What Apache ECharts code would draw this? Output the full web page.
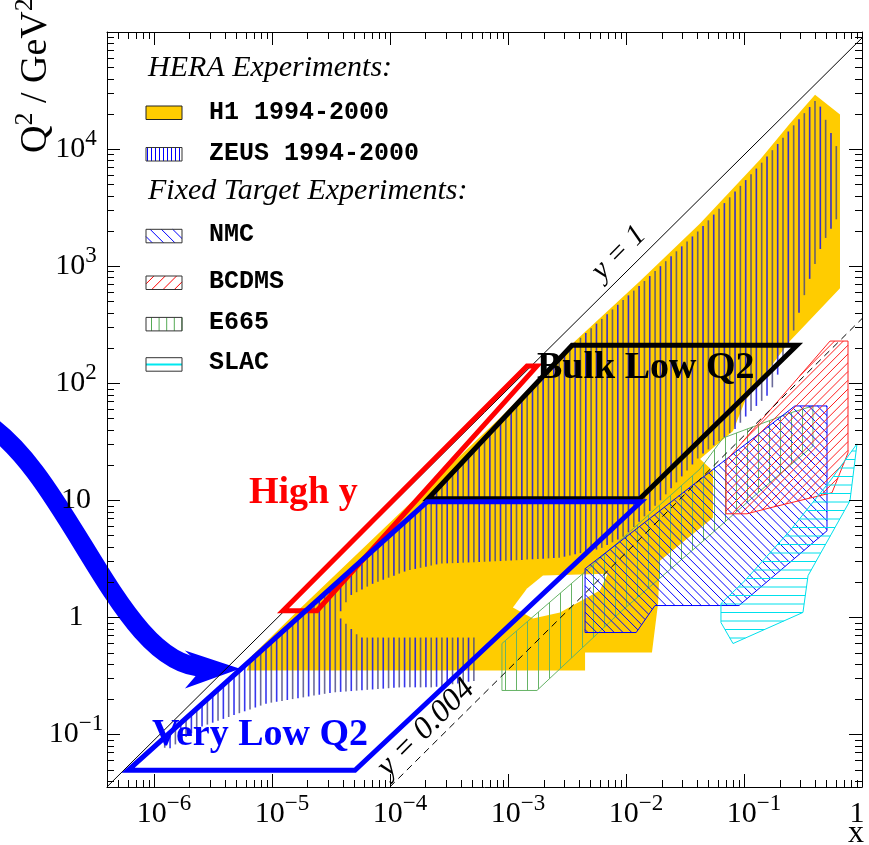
<!DOCTYPE html>
<html><head><meta charset="utf-8">
<script src="https://cdn.jsdelivr.net/npm/echarts@6/dist/echarts.min.js"></script>
<style>html,body{margin:0;padding:0;background:#fff}#c{width:869px;height:845px}</style>
</head><body><div id="c"></div><script>
// ---------------- data ----------------
const xRange = [4e-7, 1];
const q2Range = [0.0355, 1e5];
const minorMultipliers = [2, 3, 4, 5, 6, 7, 8, 9];
const sEP = 8.9e4;                 // GeV^2
const yLineValues = [1, 0.004];

const h1Region = [
  [6.1e-6, 0.351], [6.8e-6, 0.472], [1.73e-5, 1.19], [1.22e-4, 7.81], [8.55e-4, 50.4],
  [3.56e-3, 220], [1.31e-2, 742], [4.24e-2, 2317], [0.137, 8140], [0.245, 16500],
  [0.40, 29150], [0.651, 19700], [0.651, 647], [0.245, 229], [0.102, 70.4],
  [0.0807, 39.1], [0.0424, 22.5], [0.0546, 17.8], [0.0546, 7.08], [0.0194, 3.04],
  [0.0187, 1.31], [0.0166, 0.50], [4.5e-3, 0.50], [4.5e-3, 0.351]
];
const h1Gap = [[1.10e-3, 1.21], [1.45e-3, 1.76], [1.98e-3, 2.27], [7.0e-3, 2.36], [6.0e-3, 1.69], [2.76e-3, 1.10], [1.63e-3, 0.975]];
const zeusRegion = [
  [1.12e-6, 0.0855], [6.51e-6, 0.427], [3.10e-5, 1.76], [2.06e-4, 9.89], [3.49e-3, 211],
  [1.31e-2, 686], [4.24e-2, 2060], [0.137, 7380], [0.245, 14650], [0.416, 27000],
  [0.626, 9770], [0.626, 2660], [0.458, 1534], [0.342, 673], [0.255, 252],
  [0.210, 145], [0.166, 82.4], [0.108, 54.6], [0.0839, 40.6], [0.0424, 23.9],
  [0.0194, 9.89], [9.81e-3, 4.97], [6.03e-3, 3.85], [2.76e-3, 3.23], [9.81e-4, 3.04],
  [2.65e-4, 2.87], [1.39e-4, 2.50], [7.18e-5, 1.94], [4.58e-5, 1.53], [3.62e-5, 1.03],
  [5.57e-5, 0.671], [5.46e-4, 0.671], [5.46e-4, 0.289], [2.31e-4, 0.252], [1.22e-4, 0.252],
  [3.29e-5, 0.228], [9.08e-6, 0.184], [2.45e-6, 0.115], [1.29e-6, 0.0731]
];
const nmcRegion = [[4.5e-3, 2.60], [4.5e-3, 0.741], [1.22e-2, 0.741], [1.76e-2, 1.26], [0.0907, 1.26], [0.505, 5.48], [0.505, 63.9], [0.270, 63.9]];
const bcdmsRegion = [[7.04e-2, 7.66], [7.04e-2, 21.7], [0.536, 229], [0.761, 229], [0.761, 25.4], [0.557, 11.6], [0.166, 8.61], [0.106, 7.66]];
const e665Region = [[8.89e-4, 0.597], [8.89e-4, 0.237], [1.76e-3, 0.237], [8.89e-3, 1.10], [4.24e-2, 4.25], [0.137, 12.0], [0.384, 29.1], [0.384, 63.9], [0.245, 55.6], [0.0664, 34.0], [0.0424, 18.5], [4.5e-3, 2.45]];
const slacRegion = [[6.38e-2, 1.31], [6.38e-2, 0.902], [8.07e-2, 0.597], [0.316, 1.10], [0.349, 2.27], [0.791, 9.89], [0.907, 30.3], [0.536, 14.6], [0.245, 5.48], [0.102, 2.06]];

const veryLowQ2Box = [[6.03e-7, 0.0493], [5.05e-5, 0.0493], [1.34e-2, 9.69], [2.06e-4, 9.69]];
const bulkLowQ2Box = [[2.10e-4, 10.3], [1.31e-2, 10.3], [0.281, 211], [3.49e-3, 211]];
const highYBox = [[1.24e-5, 1.14], [2.41e-5, 1.14], [1.76e-3, 140], [1.45e-3, 140]];

// arrow: cubic curve (start, control 1, control 2, end) and barbed head
const arrowCurve = [[3.35e-8, 49.4], [1.94e-7, 17.8], [5.15e-7, 0.351], [2.81e-6, 0.373]];
const arrowHead = [[5.36e-6, 0.364], [1.83e-6, 0.520], [2.60e-6, 0.373], [1.83e-6, 0.247]];

const legendHera = ['H1 1994-2000', 'ZEUS 1994-2000'];
const legendFixed = ['NMC', 'BCDMS', 'E665', 'SLAC'];

// ---------------- helpers ----------------
const SERIF = '"Liberation Serif","Times New Roman",serif';
const MONO = '"Liberation Mono","Courier New",monospace';

function hatchSegments(pts, angleDeg, spacing, phase) {
  const a = angleDeg * Math.PI / 180;
  const ux = Math.cos(a), uy = Math.sin(a), nx = -uy, ny = ux;
  let cmin = Infinity, cmax = -Infinity;
  pts.forEach(p => { const c = p[0] * nx + p[1] * ny; cmin = Math.min(cmin, c); cmax = Math.max(cmax, c); });
  const segs = [];
  let k0 = Math.ceil((cmin - phase) / spacing);
  for (let k = k0; k * spacing + phase <= cmax; k++) {
    const c = k * spacing + phase;
    const ts = [];
    for (let i = 0; i < pts.length; i++) {
      const p = pts[i], q = pts[(i + 1) % pts.length];
      const cp = p[0] * nx + p[1] * ny, cq = q[0] * nx + q[1] * ny;
      if ((cp < c && cq >= c) || (cq < c && cp >= c)) {
        const t = (c - cp) / (cq - cp);
        const x = p[0] + t * (q[0] - p[0]), y = p[1] + t * (q[1] - p[1]);
        ts.push(x * ux + y * uy);
      }
    }
    ts.sort((m, n) => m - n);
    for (let j = 0; j + 1 < ts.length; j += 2) {
      segs.push([ts[j] * ux + c * nx, ts[j] * uy + c * ny, ts[j + 1] * ux + c * nx, ts[j + 1] * uy + c * ny, k]);
    }
  }
  return segs;
}
function lineEl(x1, y1, x2, y2, stroke, lw, extra) {
  return Object.assign({ type: 'line', silent: true, shape: { x1, y1, x2, y2 }, style: { stroke, lineWidth: lw } }, extra || {});
}
function hatchEls(pts, angle, spacing, phase, colorFn, lw, extra) {
  return hatchSegments(pts, angle, spacing, phase).map(s => lineEl(s[0], s[1], s[2], s[3], colorFn(s[4]), lw, extra));
}
const toPx = (api, pts) => pts.map(p => api.coord(p));

function layer(z, draw) {
  return {
    type: 'custom', coordinateSystem: 'cartesian2d', xAxisIndex: 0, yAxisIndex: 0,
    data: [[1e-3, 1]], z: z, silent: true, clip: false, animation: false,
    renderItem: (params, api) => draw(api)
  };
}
function hatchedRegion(region, angle, spacing, color, lw) {
  return api => {
    const pts = toPx(api, region);
    return { type: 'group', children: hatchEls(pts, angle, spacing, 0.5, () => color, lw).concat([
      { type: 'polygon', shape: { points: pts }, style: { fill: 'none', stroke: color, lineWidth: 1 } }
    ]) };
  };
}
function boxLayer(box, color) {
  return api => ({ type: 'polygon', shape: { points: toPx(api, box) }, style: { fill: 'none', stroke: color, lineWidth: 5, lineJoin: 'miter' } });
}

function decadeExp(v) { const l = Math.log10(v); const e = Math.round(l); return Math.abs(l - e) < 1e-4 ? e : null; }
function supText(e) { return e < 0 ? '\u2212' + (-e) : String(e); }

// ---------------- legend graphics ----------------
function swatch(x, y, w, h, kind) {
  const pts = [[x, y], [x + w, y], [x + w, y + h], [x, y + h]];
  const els = [];
  if (kind === 'H1') {
    els.push({ type: 'rect', z: 100, shape: { x, y, width: w, height: h }, style: { fill: '#ffcc00', stroke: '#222', lineWidth: 1 } });
    return els;
  }
  els.push({ type: 'rect', z: 100, shape: { x, y, width: w, height: h }, style: { fill: '#fff' } });
  let segs = [];
  if (kind === 'ZEUS') segs = hatchEls(pts, 90, 4, 0.5, () => '#0000ff', 1, { z: 100 });
  if (kind === 'NMC') segs = hatchEls(pts, 45, 8, 0, () => '#0000ff', 1, { z: 100 });
  if (kind === 'BCDMS') segs = hatchEls(pts, -45, 8, 0, () => '#ff0000', 1, { z: 100 });
  if (kind === 'E665') segs = hatchEls(pts, 90, 7.6, 0.5, () => '#55aa55', 1, { z: 100 });
  if (kind === 'SLAC') segs = [lineEl(x, y + h / 2, x + w, y + h / 2, '#00e8f0', 2, { z: 100 })];
  els.push(...segs);
  els.push({ type: 'rect', z: 100, shape: { x, y, width: w, height: h }, style: { fill: 'none', stroke: '#333', lineWidth: 1 } });
  return els;
}
function txt(x, y, text, opts) {
  const st = Object.assign({ text, fill: '#000', fontFamily: SERIF, fontSize: 30, align: 'left', verticalAlign: 'middle', textAlign: 'left', textVerticalAlign: 'middle' }, opts.style || {});
  if (st.align) st.textAlign = st.align;
  if (st.verticalAlign) st.textVerticalAlign = st.verticalAlign;
  return { type: 'text', z: 100, x, y, rotation: opts.rotation || 0, silent: true, style: st };
}

const graphics = [];
graphics.push(txt(148, 68, 'HERA Experiments:', { style: { fontStyle: 'italic', fontSize: 30 } }));
const heraRows = [113, 154.5];
legendHera.forEach((name, i) => {
  graphics.push(...swatch(146, heraRows[i] - 7, 36, 13.5, name.split(' ')[0]));
  graphics.push(txt(209, heraRows[i] - 0.5, name, { style: { fontFamily: MONO, fontWeight: 'bold', fontSize: 25 } }));
});
graphics.push(txt(148, 191, 'Fixed Target Experiments:', { style: { fontStyle: 'italic', fontSize: 30 } }));
const fixedRows = [236.3, 283, 324.4, 364.7];
legendFixed.forEach((name, i) => {
  graphics.push(...swatch(146, fixedRows[i] - 7, 36, 13.5, name));
  graphics.push(txt(209, fixedRows[i] - 1.5, name, { style: { fontFamily: MONO, fontWeight: 'bold', fontSize: 25 } }));
});
graphics.push(txt(249, 493, 'High y', { style: { fill: '#ff0000', fontWeight: 'bold', fontSize: 38 } }));
graphics.push(txt(537, 368, 'Bulk Low Q2', { style: { fill: '#000', fontWeight: 'bold', fontSize: 38 } }));
graphics.push(txt(152, 735, 'Very Low Q2', { style: { fill: '#0000ff', fontWeight: 'bold', fontSize: 38 } }));
graphics.push(txt(619, 253, 'y = 1', { rotation: Math.PI / 4, style: { fontStyle: 'italic', fontSize: 30, align: 'center' } }));
graphics.push(txt(426, 728, 'y = 0.004', { rotation: Math.PI / 4, style: { fontStyle: 'italic', fontSize: 32, align: 'center' } }));
graphics.push(txt(36, 153, '{q|Q}{s|2}{q| / GeV}{s|2}', { rotation: Math.PI / 2, style: {
  rich: { q: { fontFamily: SERIF, fontSize: 38, lineHeight: 48, fill: '#000' }, s: { fontFamily: SERIF, fontSize: 26, lineHeight: 26, verticalAlign: 'top', fill: '#000' } } } }));
graphics.push(txt(856, 834, 'x', { style: { fontSize: 32, align: 'center' } }));

// ---------------- chart ----------------
const chart = echarts.init(document.getElementById('c'), null, { renderer: 'canvas', width: 869, height: 845 });

const axisCommon = {
  type: 'log', logBase: 10, z: 3,
  axisLine: { show: true, onZero: false, lineStyle: { color: '#000', width: 1 } },
  axisTick: { show: true, inside: true, length: 13, lineStyle: { color: '#000', width: 1 } },
  splitLine: { show: false }, minorTick: { show: false }, minorSplitLine: { show: false }
};
const richBase = { fontFamily: SERIF, fontSize: 30, lineHeight: 44, color: '#000' };
const richSup = { fontFamily: SERIF, fontSize: 23, lineHeight: 23, verticalAlign: 'top', color: '#000' };

const option = {
  animation: false,
  backgroundColor: '#fff',
  grid: { left: 107, top: 32, width: 755, height: 755, show: false, containLabel: false, outerBoundsMode: 'none' },
  xAxis: [
    Object.assign({}, axisCommon, {
      min: xRange[0], max: xRange[1], position: 'bottom',
      axisLabel: {
        show: true, interval: 0, margin: 5, showMinLabel: true, showMaxLabel: true, hideOverlap: false,
        formatter: v => { const e = decadeExp(v); if (e === null) return ''; if (e === 0) return '{one|1}'; return '{b|10}{s|' + supText(e) + '}'; },
        rich: { b: Object.assign({}, richBase, { padding: [0, 0, 0, 20] }), s: richSup, one: Object.assign({}, richBase, { padding: [0, 10, 0, 0] }) }
      }
    }),
    Object.assign({}, axisCommon, { min: xRange[0], max: xRange[1], position: 'top', axisLabel: { show: false } })
  ],
  yAxis: [
    Object.assign({}, axisCommon, {
      min: q2Range[0], max: q2Range[1], position: 'left',
      axisLabel: {
        show: true, interval: 0, margin: 31, align: 'center', showMinLabel: true, showMaxLabel: false, hideOverlap: false,
        formatter: v => { const e = decadeExp(v); if (e === null || e >= 5) return ''; if (e === 0) return '{b|1}'; if (e === 1) return '{b|10}'; return '{b|10}{s|' + supText(e) + '}'; },
        rich: { b: richBase, s: richSup }
      }
    }),
    Object.assign({}, axisCommon, { min: q2Range[0], max: q2Range[1], position: 'right', axisLabel: { show: false } })
  ],
  graphic: { elements: graphics },
  series: [
    // blue arrow
    layer(1, api => {
      const c = toPx(api, arrowCurve);
      return { type: 'group', children: [
        { type: 'bezierCurve', shape: { x1: c[0][0], y1: c[0][1], cpx1: c[1][0], cpy1: c[1][1], cpx2: c[2][0], cpy2: c[2][1], x2: c[3][0], y2: c[3][1] },
          style: { fill: 'none', stroke: '#0000ff', lineWidth: 19, lineCap: 'butt' } },
        { type: 'polygon', shape: { points: toPx(api, arrowHead) }, style: { fill: '#0000ff' } }
      ] };
    }),
    // H1
    layer(2, api => ({ type: 'polygon', shape: { points: toPx(api, h1Region) }, style: { fill: '#ffcc00' } })),
    layer(2, api => ({ type: 'polygon', shape: { points: toPx(api, h1Gap) }, style: { fill: '#ffffff' } })),
    // ZEUS
    layer(2, api => ({ type: 'group', children: hatchEls(toPx(api, zeusRegion), 90, 5.33, 0.5,
      k => (k % 2 === 0 ? 'rgba(20,20,235,0.85)' : 'rgba(70,70,130,0.8)'), 1.6) })),
    // fixed target
    layer(2, hatchedRegion(e665Region, 90, 11, '#66b366', 1)),
    layer(2, hatchedRegion(nmcRegion, 45, 6.2, '#0000ff', 1)),
    layer(2, hatchedRegion(bcdmsRegion, -45, 6.2, '#ff2020', 1)),
    layer(2, hatchedRegion(slacRegion, 0, 8.5, '#00e0ec', 1)),
    // y = const lines
    layer(2, api => {
      const children = yLineValues.map((yv, i) => {
        const xs = Math.max(xRange[0], q2Range[0] / (sEP * yv));
        const xe = Math.min(xRange[1], q2Range[1] / (sEP * yv));
        const p1 = api.coord([xs, sEP * yv * xs]), p2 = api.coord([xe, sEP * yv * xe]);
        return lineEl(p1[0], p1[1], p2[0], p2[1], '#000', 1, i === 1 ? { style: { stroke: '#000', lineWidth: 1, lineDash: [7, 5] } } : {});
      });
      return { type: 'group', children };
    }),
    // kinematic boxes
    layer(2, boxLayer(highYBox, '#ff0000')),
    layer(2, boxLayer(bulkLowQ2Box, '#000000')),
    layer(2, boxLayer(veryLowQ2Box, '#0000ff')),
    // minor ticks on all four sides
    layer(4, api => {
      const bl = api.coord([xRange[0], q2Range[0]]), tr = api.coord([xRange[1], q2Range[1]]);
      const L = 7, ch = [];
      for (let k = -7; k <= 0; k++) minorMultipliers.forEach(m => {
        const v = m * Math.pow(10, k);
        if (v <= xRange[0] || v >= xRange[1]) return;
        const px = Math.round(api.coord([v, q2Range[0]])[0]) + 0.5;
        ch.push(lineEl(px, bl[1], px, bl[1] - L, '#000', 1));
        ch.push(lineEl(px, tr[1], px, tr[1] + L, '#000', 1));
      });
      for (let k = -2; k <= 4; k++) minorMultipliers.forEach(m => {
        const v = m * Math.pow(10, k);
        if (v <= q2Range[0] || v >= q2Range[1]) return;
        const py = Math.round(api.coord([xRange[0], v])[1]) + 0.5;
        ch.push(lineEl(bl[0], py, bl[0] + L, py, '#000', 1));
        ch.push(lineEl(tr[0], py, tr[0] - L, py, '#000', 1));
      });
      return { type: 'group', children: ch };
    })
  ]
};
chart.setOption(option);
</script></body></html>
